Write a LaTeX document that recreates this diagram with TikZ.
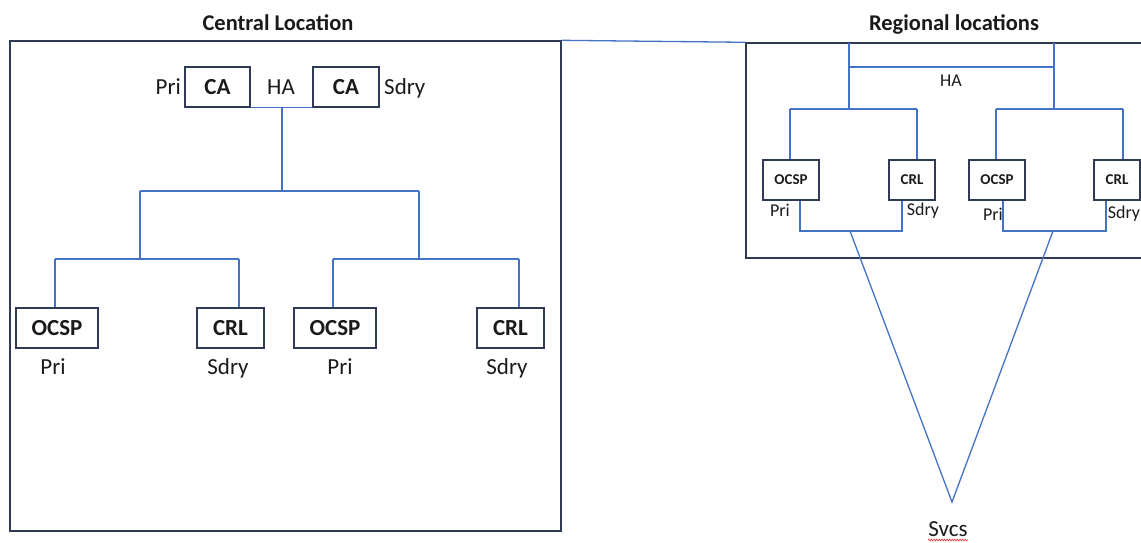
\documentclass[tikz,border=0pt]{standalone}
\usepackage{fontspec}
\setmainfont{Carlito}
\usetikzlibrary{decorations.pathmorphing}
\definecolor{framec}{HTML}{2F3B55}
\definecolor{linkc}{HTML}{4472C4}
\definecolor{txtc}{HTML}{1A1A1A}
\definecolor{squig}{HTML}{E04040}
\tikzset{
  frame/.style={draw=framec, line width=1.4pt, inner sep=0pt},
  bigbox/.style={draw=framec, line width=1.4pt, inner sep=0pt, minimum height=40pt, text=txtc,
    font=\fontsize{23}{27}\selectfont\bfseries},
  smallbox/.style={draw=framec, line width=1.4pt, inner sep=0pt, minimum height=40pt, text=txtc,
    font=\fontsize{15}{18}\selectfont\bfseries},
  bigtxt/.style={inner sep=0pt, text=txtc, font=\fontsize{23}{27}\selectfont},
  smalltxt/.style={inner sep=0pt, text=txtc, font=\fontsize{18}{21}\selectfont},
  titletxt/.style={inner sep=0pt, text=txtc, font=\fontsize{22.5}{27}\selectfont\bfseries},
  link/.style={draw=linkc, line width=1.3pt},
}
\begin{document}
\begin{tikzpicture}[x=1pt,y=-1pt]
\useasboundingbox (0,0) rectangle (1141,542);

% ---------- titles ----------
\node[titletxt, anchor=base] (tcentral) at (278,30) {Central Location};
\node[titletxt, anchor=base] (tregional) at (954,30) {Regional locations};

% ---------- frames ----------
\node[frame, minimum width=551pt, minimum height=490pt] (central) at (285.5,286) {};
\node[frame, minimum width=410pt, minimum height=215pt] (regional) at (951,150.5) {};
\draw[link] (central.north east) -- (regional.north west);

% ---------- central: CA pair ----------
\node[bigbox, minimum width=65pt] (ca1) at (217.5,87) {CA};
\node[bigbox, minimum width=66pt] (ca2) at (346,87) {CA};
\node[bigtxt, anchor=base east] (pri0) at (181,94) {Pri};
\node[bigtxt, anchor=base] (ha0) at (281,94) {HA};
\node[bigtxt, anchor=base west] (sdry0) at (384,94) {Sdry};
\draw[link] (ca1.south east) -- (ca2.south west);

% ---------- central: bottom boxes ----------
\node[bigbox, minimum width=82pt] (ocsp1) at (57,328) {OCSP};
\node[bigbox, minimum width=67pt] (crl1) at (230.5,328) {CRL};
\node[bigbox, minimum width=82pt] (ocsp2) at (335,328) {OCSP};
\node[bigbox, minimum width=67pt] (crl2) at (510.5,328) {CRL};
\node[bigtxt, anchor=base] (pri1) at (53,374) {Pri};
\node[bigtxt, anchor=base] (sdry1) at (228,374) {Sdry};
\node[bigtxt, anchor=base] (pri2) at (340,374) {Pri};
\node[bigtxt, anchor=base] (sdry2) at (507,374) {Sdry};

% ---------- central: tree ----------
\coordinate (ha) at (282,107);
\coordinate (hub) at (282,191);
\coordinate (l0) at (140,191);
\coordinate (r0) at (419,191);
\coordinate (l1) at (140,259);
\coordinate (r1) at (419,259);
\coordinate (ll) at (55,259);
\coordinate (lr) at (239,259);
\coordinate (rl) at (333,259);
\coordinate (rr) at (519,259);
\draw[link] (ha) -- (hub);
\draw[link] (l0) -- (r0);
\draw[link] (l0) -- (l1);
\draw[link] (r0) -- (r1);
\draw[link] (ll) -- (lr);
\draw[link] (rl) -- (rr);
\draw[link] (ll) -- (ll |- ocsp1.north);
\draw[link] (lr) -- (lr |- crl1.north);
\draw[link] (rl) -- (rl |- ocsp2.north);
\draw[link] (rr) -- (rr |- crl2.north);

% ---------- regional: boxes ----------
\node[smallbox, minimum width=56pt] (ocsp3) at (791,180) {OCSP};
\node[smallbox, minimum width=46pt] (crl3) at (912,180) {CRL};
\node[smallbox, minimum width=56pt] (ocsp4) at (997,180) {OCSP};
\node[smallbox, minimum width=46pt] (crl4) at (1117,180) {CRL};
\node[smalltxt, anchor=base] (hareg) at (951,86) {HA};
\node[smalltxt, anchor=base] (pri3) at (780,216) {Pri};
\node[smalltxt, anchor=base] (sdry3) at (923,215) {Sdry};
\node[smalltxt, anchor=base] (pri4) at (993,220) {Pri};
\node[smalltxt, anchor=base] (sdry4) at (1124,218) {Sdry};

% ---------- regional: tree ----------
\coordinate (ga) at (849,43);
\coordinate (gb) at (1054,43);
\coordinate (ga1) at (849,67);
\coordinate (gb1) at (1054,67);
\coordinate (ga2) at (849,109);
\coordinate (gb2) at (1054,109);
\coordinate (la) at (790,109);
\coordinate (lb) at (917,109);
\coordinate (ra) at (996,109);
\coordinate (rb) at (1123,109);
\draw[link] (ga) -- (ga2);
\draw[link] (gb) -- (gb2);
\draw[link] (ga1) -- (gb1);
\draw[link] (la) -- (lb);
\draw[link] (ra) -- (rb);
\draw[link] (la) -- (la |- ocsp3.north);
\draw[link] (lb) -- (lb |- crl3.north);
\draw[link] (ra) -- (ra |- ocsp4.north);
\draw[link] (rb) -- (rb |- crl4.north);

% bottom joins
\coordinate (pa) at (800,231);
\coordinate (pb) at (902,231);
\coordinate (qa) at (1003,231);
\coordinate (qb) at (1106,231);
\coordinate (pm) at (850,231);
\coordinate (qm) at (1053,231);
\draw[link] (pa |- ocsp3.south) -- (pa) -- (pb) -- (pb |- crl3.south);
\draw[link] (qa |- ocsp4.south) -- (qa) -- (qb) -- (qb |- crl4.south);

% ---------- Svcs ----------
\coordinate (apex) at (952,502);
\draw[link, line join=miter] (pm) -- (apex) -- (qm);
\node[bigtxt, anchor=base] (svcs) at (948,536) {Svcs};
\draw[squig, line width=0.7pt, decorate, decoration={zigzag, amplitude=0.9pt, segment length=2.6pt}]
  ([yshift=-4pt]svcs.base west) -- ([yshift=-4pt]svcs.base east);
\end{tikzpicture}
\end{document}
